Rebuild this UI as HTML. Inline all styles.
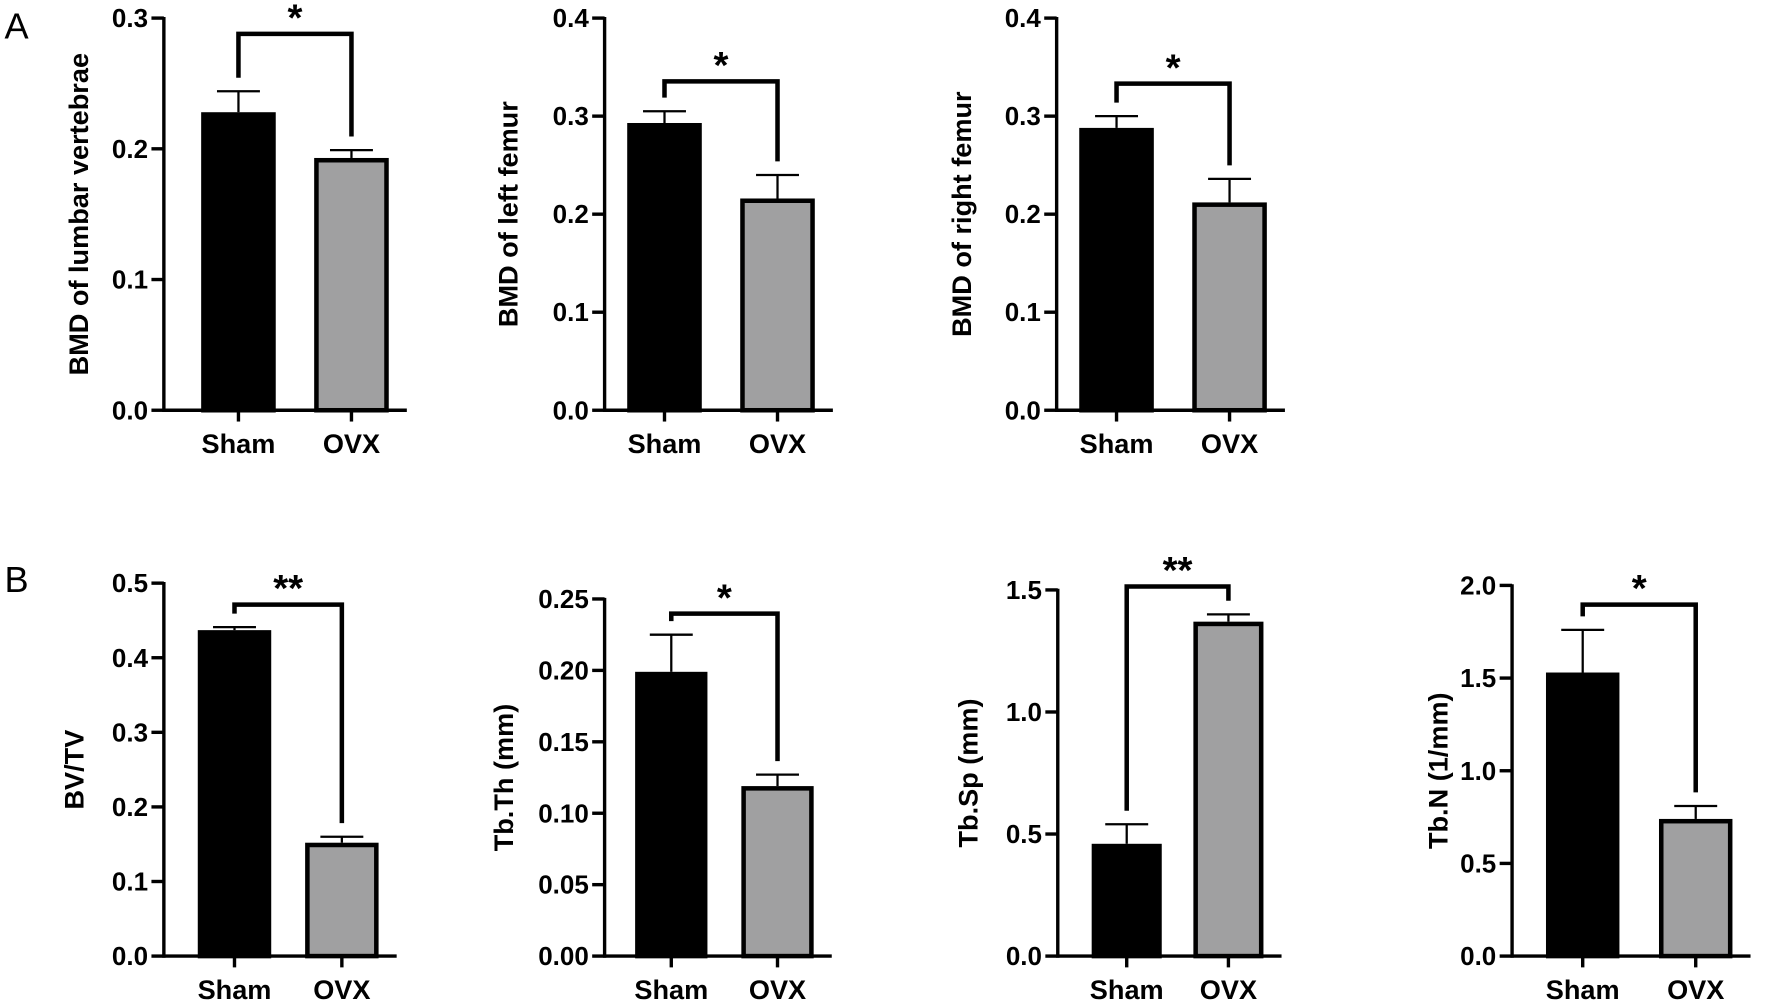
<!DOCTYPE html>
<html><head><meta charset="utf-8"><style>
body{margin:0;background:#fff}
svg{display:block;font-family:"Liberation Sans",Arial,sans-serif}
</style></head><body>
<svg id="fig" width="1772" height="1003" viewBox="0 0 1568 887.5">
<text x="4" y="34" font-size="32">A</text>
<text x="4" y="524" font-size="32">B</text>
</svg>
<script>
const categories = ["Sham", "OVX"];
const yTitles = ["BMD of lumbar vertebrae","BMD of left femur","BMD of right femur","BV/TV","Tb.Th (mm)","Tb.Sp (mm)","Tb.N (1/mm)"];
const shamMeans = [0.228, 0.293, 0.288, 0.437, 0.199, 0.46, 1.53];
const shamErr   = [0.244, 0.305, 0.300, 0.441, 0.225, 0.54, 1.76];
const ovxMeans  = [0.193, 0.216, 0.212, 0.152, 0.119, 1.37, 0.74];
const ovxErr    = [0.199, 0.240, 0.236, 0.160, 0.127, 1.40, 0.81];
const sigLabels = ["*","*","*","**","*","**","*"];
const tickLabels = [
 ["0.0","0.1","0.2","0.3"],
 ["0.0","0.1","0.2","0.3","0.4"],
 ["0.0","0.1","0.2","0.3","0.4"],
 ["0.0","0.1","0.2","0.3","0.4","0.5"],
 ["0.00","0.05","0.10","0.15","0.20","0.25"],
 ["0.0","0.5","1.0","1.5"],
 ["0.0","0.5","1.0","1.5","2.0"]
];
// layout (pixel) per panel
const L = [
 {ax:145,y0:363,yt:16,b1:178,b2:278,bw:66,tx:70,br:30},
 {ax:535,y0:363,yt:16,b1:555,b2:655,bw:66,tx:450,br:72},
 {ax:935,y0:363,yt:16,b1:955,b2:1055,bw:66,tx:851,br:74},
 {ax:145,y0:846,yt:516,b1:175,b2:270,bw:65,tx:66,br:535},
 {ax:535,y0:846,yt:530,b1:562,b2:656,bw:64,tx:446,br:543},
 {ax:936,y0:846,yt:522,b1:966,b2:1056,bw:62,tx:857,br:519},
 {ax:1338,y0:846,yt:518,b1:1368,b2:1468,bw:65,tx:1273,br:535}
];
const NS="http://www.w3.org/2000/svg";
const svg=document.getElementById('fig');
function mk(tag,attrs,parent,text){const e=document.createElementNS(NS,tag);for(const k in attrs)e.setAttribute(k,attrs[k]);if(text!==undefined)e.textContent=text;(parent||svg).appendChild(e);return e;}
for(let i=0;i<7;i++){
 const c=L[i];
 const g=mk('g',{});
 
 
 const ticks=tickLabels[i];
 const ymax=parseFloat(ticks[ticks.length-1]);
 const y=v=>c.y0-(v/ymax)*(c.y0-c.yt);
 const xEnd=c.b2+c.bw+16;
 const vals=[shamMeans[i],ovxMeans[i]], errs=[shamErr[i],ovxErr[i]], xs=[c.b1,c.b2];
 for(let k=0;k<2;k++){
  const cx=xs[k]+c.bw/2;
  const el=mk('line',{x1:cx,x2:cx,y1:y(vals[k]),y2:y(errs[k]),stroke:'#000','stroke-width':2},g);
  
  
  const cap=mk('line',{x1:cx-19,x2:cx+19,y1:y(errs[k]),y2:y(errs[k]),stroke:'#000','stroke-width':2},g);
  
  
  const r=mk('rect',{x:xs[k]+2,y:y(vals[k])+2,width:c.bw-4,height:c.y0-y(vals[k])-2,fill:k?'#a0a0a1':'#000',stroke:'#000','stroke-width':4},g);
  
  
  const xt=mk('line',{x1:cx,x2:cx,y1:c.y0,y2:c.y0+10,stroke:'#000','stroke-width':3},g);
  
  
  const xl=mk('text',{x:cx,y:c.y0+38,'font-size':24,'font-weight':'bold','text-anchor':'middle'},g,categories[k]);
  
  
 }
 const ya=mk('line',{x1:c.ax,x2:c.ax,y1:c.yt-1,y2:c.y0+1.5,stroke:'#000','stroke-width':3},g);
 
 
 const xa=mk('line',{x1:c.ax,x2:xEnd,y1:c.y0,y2:c.y0,stroke:'#000','stroke-width':3},g);
 
 
 ticks.forEach(t=>{
  const ty=y(parseFloat(t));
  const tl=mk('line',{x1:c.ax-11,x2:c.ax,y1:ty,y2:ty,stroke:'#000','stroke-width':3},g);
  
  
  const tt=mk('text',{x:c.ax-14,y:ty+8,'font-size':23,'font-weight':'bold','text-anchor':'end'},g,t);
  
  
 });
 const yt=mk('text',{x:0,y:0,'font-size':24,'font-weight':'bold','text-anchor':'middle',transform:`translate(${c.tx+8},${(c.yt+c.y0)/2}) rotate(-90)`},g,yTitles[i]);
 
 
 const c1=c.b1+c.bw/2, c2=c.b2+c.bw/2;
 const d1=Math.min(y(errs[0])-12, y(vals[0])-12), d2=y(errs[1])-12;
 const bk=mk('path',{d:`M${c1},${d1} V${c.br} H${c2} V${d2}`,fill:'none',stroke:'#000','stroke-width':4},g);
 
 
 const st=mk('text',{x:(c1+c2)/2,y:c.br-3,'font-size':34,'font-weight':'bold','text-anchor':'middle'},g,sigLabels[i]);
 
 
}
</script>
</body></html>
